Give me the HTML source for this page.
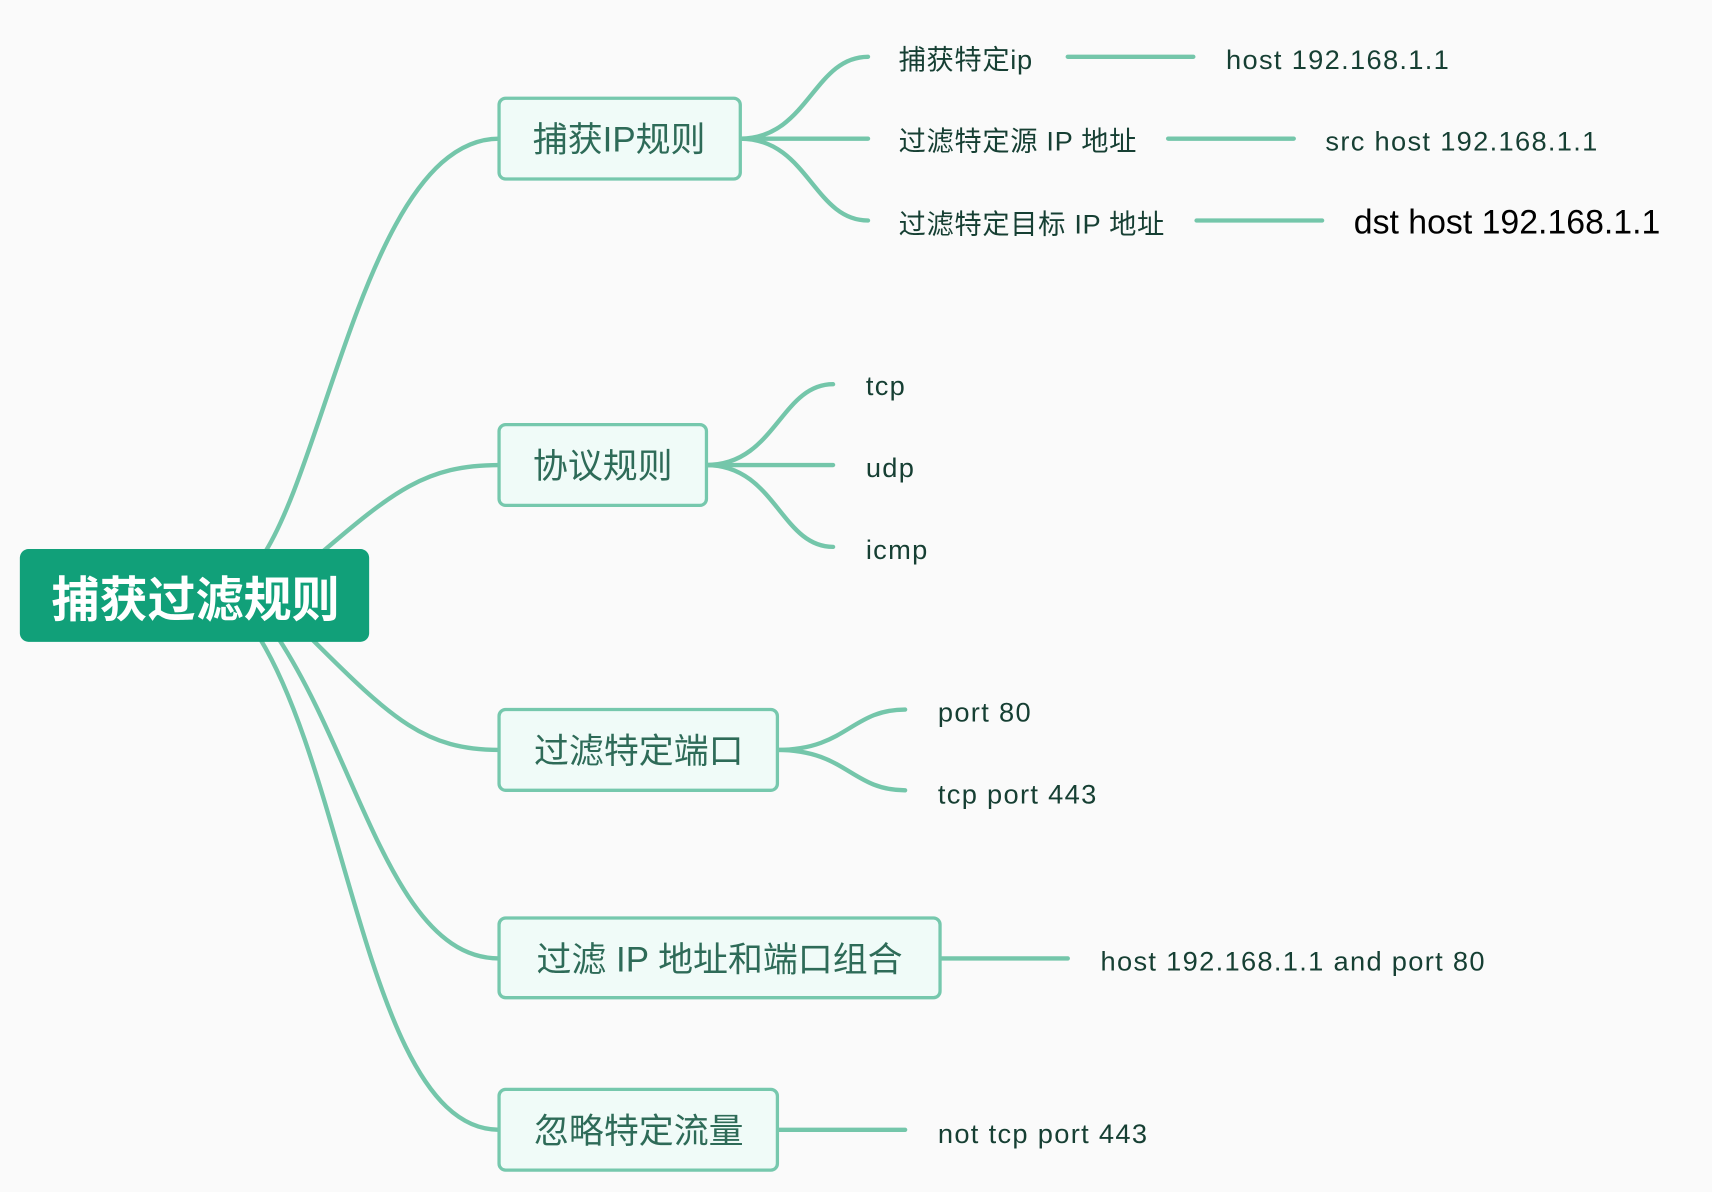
<!DOCTYPE html>
<html><head><meta charset="utf-8"><style>
html,body{margin:0;padding:0;background:#fafafa;}
svg{display:block;}
text{font-family:"Liberation Sans","Noto Sans CJK SC",sans-serif;}
</style></head><body>
<svg width="1712" height="1192" viewBox="0 0 1568 1092" xmlns="http://www.w3.org/2000/svg">
<rect width="1568" height="1092" fill="#fafafa"/>
<g fill="none" stroke="#74c6aa" stroke-width="4" stroke-linecap="round">
<path d="M240,510 C300,420 340,127 457,127"/>
<path d="M290,510 C360,450 390,426 457,426"/>
<path d="M285,585 C360,660 390,687 457,687"/>
<path d="M255,585 C330,700 360,878 457,878"/>
<path d="M238,585 C320,720 340,1035 457,1035"/>
<path d="M678,127 C740,127 745,52 795,52"/>
<path d="M678,127 L795,127"/>
<path d="M678,127 C740,127 745,202 795,202"/>
<path d="M978,52 L1093,52"/>
<path d="M1070,127 L1185,127"/>
<path d="M1096,202 L1211,202"/>
<path d="M647,426 C710,426 715,352 763,352"/>
<path d="M647,426 L763,426"/>
<path d="M647,426 C710,426 715,501 763,501"/>
<path d="M712,687 C775,687 780,650 829,650"/>
<path d="M712,687 C775,687 780,724 829,724"/>
<path d="M861,878 L978,878"/>
<path d="M712,1035 L829,1035"/>
</g>
<rect x="18" y="503" width="320" height="85" rx="8" fill="#11a079"/>
<text x="179" y="565" text-anchor="middle" font-size="44" font-weight="bold" fill="#fff">捕获过滤规则</text>
<g fill="#f0fbf8" stroke="#76c8ad" stroke-width="3">
<rect x="457" y="90" width="221" height="74" rx="6"/>
<rect x="457" y="389" width="190" height="74" rx="6"/>
<rect x="457" y="650" width="255" height="74" rx="6"/>
<rect x="457" y="841" width="404" height="73" rx="6"/>
<rect x="457" y="998" width="255" height="74" rx="6"/>
</g>
<g font-size="32" fill="#2e6b58" text-anchor="middle">
<text x="567" y="139">捕获IP规则</text>
<text x="552" y="438">协议规则</text>
<text x="585" y="699">过滤特定端口</text>
<text x="659" y="890">过滤 IP 地址和端口组合</text>
<text x="585" y="1047">忽略特定流量</text>
</g>
<g font-size="25" fill="#163f33">
<text x="823" y="63" letter-spacing="0.6">捕获特定ip</text>
<text x="823" y="138" letter-spacing="0.6">过滤特定源 IP 地址</text>
<text x="823" y="214" letter-spacing="0.6">过滤特定目标 IP 地址</text>
</g>
<g font-size="25" fill="#163f33" letter-spacing="1.2">
<text x="1123" y="63">host 192.168.1.1</text>
<text x="1214" y="138">src host 192.168.1.1</text>
<text x="793" y="362">tcp</text>
<text x="793" y="437">udp</text>
<text x="793" y="512">icmp</text>
<text x="859" y="661">port 80</text>
<text x="859" y="736">tcp port 443</text>
<text x="1008" y="889">host 192.168.1.1 and port 80</text>
<text x="859" y="1047">not tcp port 443</text>
</g>
<text x="1240" y="214" font-size="31" fill="#000">dst host 192.168.1.1</text>
</svg>
</body></html>
